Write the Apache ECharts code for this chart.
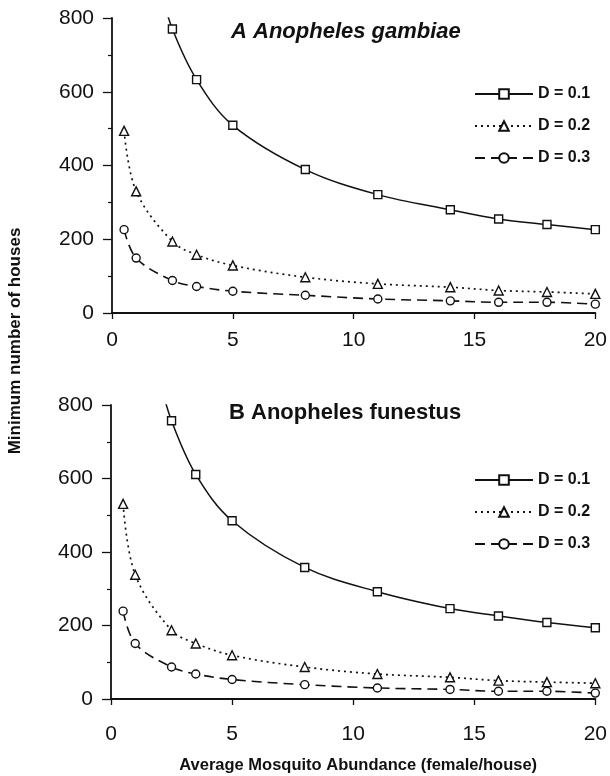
<!DOCTYPE html>
<html>
<head>
<meta charset="utf-8">
<script src="https://cdn.jsdelivr.net/npm/echarts@6/dist/echarts.min.js"></script>
<style>
  html, body { margin: 0; padding: 0; background: #fff; }
  #chart { width: 610px; height: 776px; }
</style>
</head>
<body>
<div id="chart"></div>
<script>
// abundance (female/house) where points were computed
const abundance = [0.5, 1, 2.5, 3.5, 5, 8, 11, 14, 16, 18, 20];
// D = 0.1 starts above the plot, first point off the top
const abundanceD1 = [2, 2.5, 3.5, 5, 8, 11, 14, 16, 18, 20];

// A Anopheles gambiae
const gambiaeD1 = [880, 770, 633, 509, 389, 321, 280, 255, 240, 226];
const gambiaeD2 = [494, 330, 194, 158, 129, 97, 79, 70, 61, 57, 52];
const gambiaeD3 = [226, 149, 88, 72, 59, 48, 38, 33, 29, 29, 24];

// B Anopheles funestus
const funestusD1 = [870, 757, 611, 485, 358, 292, 246, 226, 208, 194];
const funestusD2 = [531, 338, 187, 151, 119, 87, 68, 59, 50, 46, 43];
const funestusD3 = [239, 151, 87, 68, 53, 39, 30, 26, 21, 21, 16];

const xTicks = [0, 5, 10, 15, 20];
const seriesNames = ['D = 0.1', 'D = 0.2', 'D = 0.3'];

const ink = '#111';
const font = '"Liberation Sans", Arial, sans-serif';

function pairs(xs, ys) {
    return ys.map((y, i) => [xs[i], y]);
}

function makeSeries(gridIdx, d1, d2, d3) {
    const common = {
        type: 'line',
        xAxisIndex: gridIdx,
        yAxisIndex: gridIdx,
        smooth: 0.35,
        clip: true,
        itemStyle: { color: '#fff', borderColor: ink, borderWidth: 1.4 },
        emphasis: { disabled: true }
    };
    return [
        Object.assign({}, common, {
            name: seriesNames[0],
            symbol: 'rect', symbolSize: 8,
            lineStyle: { color: ink, width: 1.5, type: 'solid' },
            data: pairs(abundanceD1, d1)
        }),
        Object.assign({}, common, {
            name: seriesNames[1],
            symbol: 'triangle', symbolSize: 9,
            lineStyle: { color: ink, width: 1.7, type: [2, 4] },
            data: pairs(abundance, d2)
        }),
        Object.assign({}, common, {
            name: seriesNames[2],
            symbol: 'circle', symbolSize: 8,
            lineStyle: { color: ink, width: 1.6, type: [10, 6] },
            data: pairs(abundance, d3)
        })
    ];
}

function makeXAxis(gridIdx, labelMargin) {
    return {
        type: 'value', gridIndex: gridIdx,
        min: 0, max: 20, interval: 5,
        axisLine: { onZero: false, lineStyle: { color: ink, width: 1.8 } },
        axisTick: { show: true, length: 6, lineStyle: { color: ink, width: 1.3 } },
        axisLabel: {
            margin: labelMargin, color: ink, fontSize: 21, fontFamily: font,
            customValues: xTicks
        },
        splitLine: { show: false }
    };
}

function makeYAxis(gridIdx) {
    return {
        type: 'value', gridIndex: gridIdx,
        min: 0, max: 800, interval: 200,
        axisLine: { show: true, lineStyle: { color: ink, width: 1.8 } },
        axisTick: { show: true, length: 9, lineStyle: { color: ink, width: 1.3 } },
        minorTick: { show: true, splitNumber: 2, length: 4, lineStyle: { color: ink, width: 1.2 } },
        axisLabel: { margin: 18, color: ink, fontSize: 21, fontFamily: font },
        splitLine: { show: false },
        minorSplitLine: { show: false }
    };
}

function makeLegend(top) {
    return {
        data: seriesNames,
        orient: 'vertical',
        left: 469, top: top,
        itemWidth: 58, itemHeight: 12,
        itemGap: 16,
        selectedMode: false,
        textStyle: { color: ink, fontSize: 16, fontWeight: 'bold', fontFamily: font }
    };
}

const chart = echarts.init(document.getElementById('chart'));
const option = {
    backgroundColor: '#fff',
    animation: false,
    title: [
        {
            text: 'A Anopheles gambiae', left: 226, top: 16,
            textStyle: { fontSize: 22, fontWeight: 'bold', fontStyle: 'italic', color: ink, fontFamily: font }
        },
        {
            text: 'B Anopheles funestus', left: 224, top: 397,
            textStyle: { fontSize: 22, fontWeight: 'bold', color: ink, fontFamily: font }
        }
    ],
    legend: [makeLegend(81), makeLegend(467)],
    grid: [
        { left: 112, top: 18, width: 486, height: 295 },
        { left: 111, top: 405, width: 487, height: 294 }
    ],
    xAxis: [
        makeXAxis(0, 17),
        Object.assign(makeXAxis(1, 25), {
            name: 'Average Mosquito Abundance (female/house)',
            nameLocation: 'middle', nameGap: 58,
            nameTextStyle: { fontSize: 16.5, fontWeight: 'bold', color: ink, fontFamily: font, padding: [0, 0, 0, 10] }
        })
    ],
    yAxis: [makeYAxis(0), makeYAxis(1)],
    graphic: [
        {
            type: 'text', x: 15, y: 341, rotation: Math.PI / 2,
            style: {
                text: 'Minimum number of houses',
                fill: ink, font: 'bold 17px ' + font,
                textAlign: 'center', textVerticalAlign: 'middle'
            }
        }
    ],
    series: makeSeries(0, gambiaeD1, gambiaeD2, gambiaeD3)
        .concat(makeSeries(1, funestusD1, funestusD2, funestusD3))
};
chart.setOption(option);
</script>
</body>
</html>
